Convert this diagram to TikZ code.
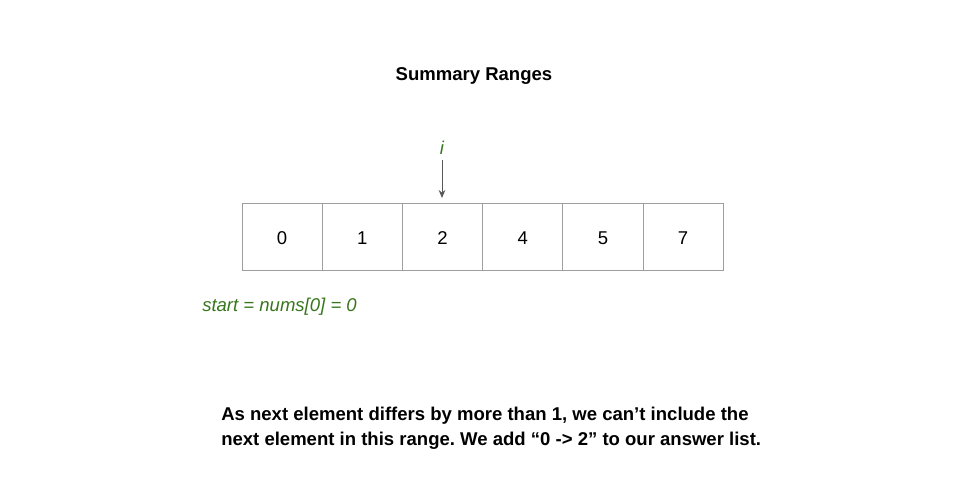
\documentclass[tikz,border=0pt]{standalone}
\usepackage{fontspec}
\setmainfont{Liberation Sans}
\usetikzlibrary{arrows.meta}
\definecolor{gr}{HTML}{38761D}
\definecolor{cellline}{HTML}{9E9E9E}
\definecolor{arr}{HTML}{595959}
\frenchspacing
\tikzset{
  cell/.style={draw=cellline, line width=0.75pt, outer sep=0pt, minimum width=80.2*0.75pt, minimum height=67*0.75pt, inner sep=0pt, text height=12pt, text depth=0pt, font=\fontsize{13.9}{16}\selectfont, anchor=west},
  greentxt/.style={text=gr, font=\fontsize{13.9}{16}\selectfont\itshape, inner sep=0pt},
  boldtxt/.style={font=\fontsize{13.9}{18.75}\selectfont\bfseries, inner sep=0pt},
}
\begin{document}
\begin{tikzpicture}[x=0.75pt,y=-0.75pt]
\useasboundingbox (0,0) rectangle (960,480);
\node[boldtxt] (title) at (474,76) {Summary Ranges};
\node[cell] (c0) at (242,236.5) {0};
\node[cell] (c1) at (c0.east) {1};
\node[cell] (c2) at (c1.east) {2};
\node[cell] (c3) at (c2.east) {4};
\node[cell] (c4) at (c3.east) {5};
\node[cell] (c5) at (c4.east) {7};
\node[greentxt] (i) at (442,148) {i};
\coordinate (tip) at (442,198);
\draw[arr, line width=0.75pt, -{Stealth[length=6pt,width=5pt]}] (442,160) -- (tip);
\node[greentxt, anchor=west] (start) at (202,307) {start = nums[0] = 0};
\node[boldtxt, anchor=north west, align=left] (msg) at (221,407) {As next element differs by more than 1, we can’t include the\\next element in this range. We add “0 -> 2” to our answer list.};
\end{tikzpicture}
\end{document}
